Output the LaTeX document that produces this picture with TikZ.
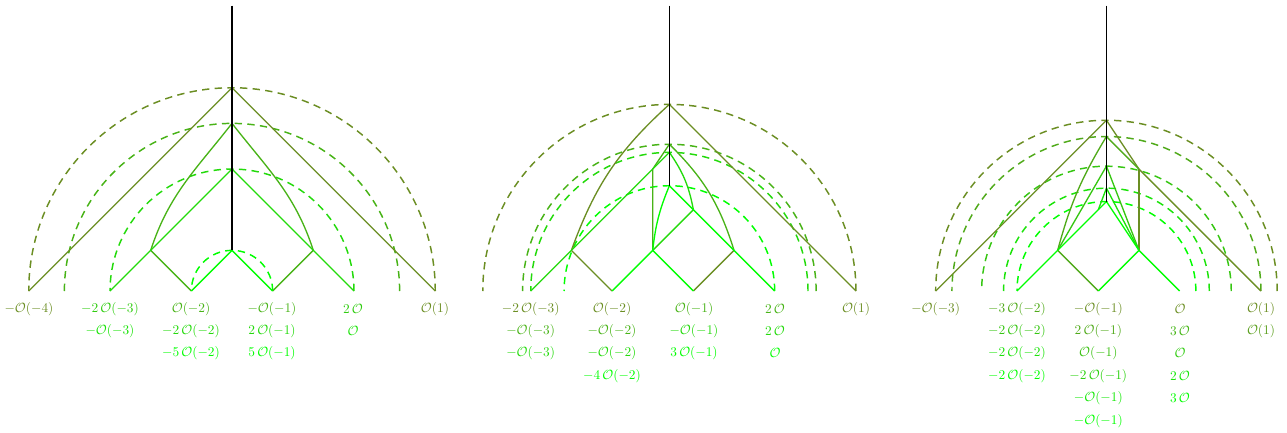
\documentclass[tikz,border=0pt]{standalone}
\usepackage{amsmath}
\definecolor{olv}{RGB}{107,142,35}
\definecolor{grn}{RGB}{0,255,0}
\tikzset{
  ln/.style={line width=1pt},
  dsh/.style={line width=1.1pt, dash pattern=on 5.5pt off 4pt},
  blk/.style={line width=1.3pt, black},
  lab/.style={inner sep=0pt, anchor=center, font=\normalsize}
}
\begin{document}
\begin{tikzpicture}[x=0.75pt,y=-0.75pt]
\useasboundingbox (0,0) rectangle (1287,432);
% ---------------- Diagram 1 ----------------
\begin{scope}[shift={(232,291)},x=30.49pt,y=30.49pt]
  \colorlet{k0}{olv}\colorlet{k1}{grn!33!olv}\colorlet{k2}{grn!67!olv}\colorlet{k3}{grn}
  \coordinate (a-top) at (0,7.02);
  \coordinate (a-h0) at (0,5);
  \coordinate (a-h1) at (0,4.123);
  \coordinate (a-h2) at (0,3);
  \coordinate (a-h3) at (0,1);
  \coordinate (a-m5) at (-5,0);
  \coordinate (a-m3) at (-3,0);
  \coordinate (a-m1) at (-1,0);
  \coordinate (a-p1) at (1,0);
  \coordinate (a-p3) at (3,0);
  \coordinate (a-p5) at (5,0);
  \coordinate (a-l) at (-2,1);
  \coordinate (a-r) at (2,1);
  \draw[dsh,k0] (5,0) arc[start angle=0,end angle=180,radius=5];
  \draw[dsh,k1] (4.123,0) arc[start angle=0,end angle=180,radius=4.123];
  \draw[dsh,k2] (3,0) arc[start angle=0,end angle=180,radius=3];
  \draw[dsh,k3] (1,0) arc[start angle=0,end angle=180,radius=1];
  \draw[ln,k0] (a-m5) -- (a-h0) -- (a-p5);
  \draw[ln,k1] (a-l) to[out=72,in=232] (a-h1);
  \draw[ln,k1] (a-r) to[out=108,in=-52] (a-h1);
  \draw[ln,k1] (a-l) -- (a-m1);
  \draw[ln,k1] (a-p1) -- (a-r);
  \draw[ln,k2] (a-m3) -- (a-h2) -- (a-p3);
  \draw[ln,k3] (a-m1) -- (a-h3) -- (a-p1);
  \draw[blk] (a-top) -- (a-h3);
\end{scope}
% ---------------- Diagram 2 ----------------
\begin{scope}[shift={(652.7,291)},x=30.49pt,y=30.49pt]
  \colorlet{k0}{olv}\colorlet{k1}{grn!33!olv}\colorlet{k2}{grn!67!olv}\colorlet{k3}{grn}
  \coordinate (b-top) at (0.41,7.02);
  \coordinate (b-h0) at (0.41,4.59);
  \coordinate (b-h1) at (0.41,3.61);
  \coordinate (b-h2) at (0.41,3.41);
  \coordinate (b-h3) at (0.41,2.59);
  \coordinate (b-m3) at (-3,0);
  \coordinate (b-m1) at (-1,0);
  \coordinate (b-p1) at (1,0);
  \coordinate (b-p3) at (3,0);
  \coordinate (b-p5) at (5,0);
  \coordinate (b-l) at (-2,1);
  \coordinate (b-c) at (0,1);
  \coordinate (b-r) at (2,1);
  \coordinate (b-q) at (1,2);
  \coordinate (b-v) at (0,3);
  \begin{scope}[shift={(0.41,0)}]
    \draw[dsh,k0] (4.59,0) arc[start angle=0,end angle=180,radius=4.59];
    \draw[dsh,k1] (3.61,0) arc[start angle=0,end angle=180,radius=3.61];
    \draw[dsh,k2] (3.41,0) arc[start angle=0,end angle=180,radius=3.41];
    \draw[dsh,k3] (2.59,0) arc[start angle=0,end angle=180,radius=2.59];
  \end{scope}
  \draw[ln,k0] (b-l) to[bend left=14] (b-h0);
  \draw[ln,k0] (b-h0) -- (b-p5);
  \draw[ln,k0] (b-l) -- (b-m1);
  \draw[ln,k0] (b-p1) -- (b-r);
  \draw[ln,k1] (b-h1) to[bend left=14] (b-r);
  \draw[ln,k1] (b-h1) -- (b-v) -- (b-c);
  \draw[ln,k2] (b-m3) -- (b-l) -- (b-h2);
  \draw[ln,k2] (b-h2) to[bend left=12] (b-q);
  \draw[ln,k2] (b-c) -- (b-q);
  \draw[ln,k3] (b-h3) to[bend right=8] (b-c);
  \draw[ln,k3] (b-h3) -- (b-p3);
  \draw[ln,k3] (b-m1) -- (b-c) -- (b-p1);
  \draw[blk] (b-top) -- (b-h3);
\end{scope}
% ---------------- Diagram 3 ----------------
\begin{scope}[shift={(1098.3,291)},x=30.49pt,y=30.49pt]
  \colorlet{k0}{olv}\colorlet{k1}{grn!25!olv}\colorlet{k2}{grn!50!olv}\colorlet{k3}{grn!75!olv}\colorlet{k4}{grn}
  \coordinate (c-top) at (0.2,7.02);
  \coordinate (c-h0) at (0.2,4.2);
  \coordinate (c-h1) at (0.2,3.8);
  \coordinate (c-h2) at (0.2,3.07);
  \coordinate (c-h3) at (0.2,2.53);
  \coordinate (c-h4) at (0.2,2.2);
  \coordinate (c-m4) at (-4,0);
  \coordinate (c-m2) at (-2,0);
  \coordinate (c-z) at (0,0);
  \coordinate (c-p2) at (2,0);
  \coordinate (c-p4) at (4,0);
  \coordinate (c-l) at (-1,1);
  \coordinate (c-r) at (1,1);
  \coordinate (c-t) at (0,2);
  \coordinate (c-v) at (1,3);
  \begin{scope}[shift={(0.2,0)}]
    \draw[dsh,k0] (4.2,0) arc[start angle=0,end angle=180,radius=4.2];
    \draw[dsh,k1] (3.8,0) arc[start angle=0,end angle=180,radius=3.8];
    \draw[dsh,k2] (3.07,0) arc[start angle=0,end angle=180,radius=3.07];
    \draw[dsh,k3] (2.53,0) arc[start angle=0,end angle=180,radius=2.53];
    \draw[dsh,k4] (2.2,0) arc[start angle=0,end angle=180,radius=2.2];
  \end{scope}
  \draw[ln,k0] (c-m4) -- (c-h0) -- (c-v) -- (c-p4);
  \draw[ln,k0] (c-v) -- (c-r);
  \draw[ln,k1] (c-l) to[bend left=8] (c-h1);
  \draw[ln,k1] (c-h1) -- (c-v);
  \draw[ln,k1] (c-l) -- (c-z);
  \draw[ln,k2] (c-l) -- (c-h2) -- (c-r);
  \draw[ln,k3] (c-t) -- (c-h3) -- (c-r);
  \draw[ln,k4] (c-t) -- (c-h4) -- (c-r);
  \draw[ln,k4] (c-m2) -- (c-l) -- (c-t);
  \draw[ln,k4] (c-z) -- (c-r) -- (c-p2);
  \draw[blk] (c-top) -- (c-h4);
\end{scope}
% ---------------- Labels ----------------
% Diagram 1
\node[lab,text=olv] (l1a) at (29,309) {$-\mathcal{O}(-4)$};
\node[lab,text=grn!55!olv] (l1b) at (110,309) {$-2\,\mathcal{O}(-3)$};
\node[lab,text=grn!75!olv] (l1c) at (110,331) {$-\mathcal{O}(-3)$};
\node[lab,text=grn!33!olv] (l1d) at (191,309) {$\mathcal{O}(-2)$};
\node[lab,text=grn!67!olv] (l1e) at (191,331) {$-2\,\mathcal{O}(-2)$};
\node[lab,text=grn] (l1f) at (191,353) {$-5\,\mathcal{O}(-2)$};
\node[lab,text=grn!33!olv] (l1g) at (272,309) {$-\mathcal{O}(-1)$};
\node[lab,text=grn!67!olv] (l1h) at (272,331) {$2\,\mathcal{O}(-1)$};
\node[lab,text=grn] (l1i) at (272,353) {$5\,\mathcal{O}(-1)$};
\node[lab,text=grn!55!olv] (l1j) at (353,309) {$2\,\mathcal{O}$};
\node[lab,text=grn!75!olv] (l1k) at (353,331) {$\mathcal{O}$};
\node[lab,text=olv] (l1l) at (435,309) {$\mathcal{O}(1)$};
% Diagram 2
\node[lab,text=olv] (l2a) at (530.7,309) {$-2\,\mathcal{O}(-3)$};
\node[lab,text=grn!33!olv] (l2b) at (530.7,331) {$-\mathcal{O}(-3)$};
\node[lab,text=grn!67!olv] (l2c) at (530.7,353) {$-\mathcal{O}(-3)$};
\node[lab,text=olv] (l2d) at (612,309) {$\mathcal{O}(-2)$};
\node[lab,text=grn!33!olv] (l2e) at (612,331) {$-\mathcal{O}(-2)$};
\node[lab,text=grn!67!olv] (l2f) at (612,353) {$-\mathcal{O}(-2)$};
\node[lab,text=grn] (l2g) at (612,376) {$-4\,\mathcal{O}(-2)$};
\node[lab,text=grn!33!olv] (l2h) at (694,309) {$\mathcal{O}(-1)$};
\node[lab,text=grn!67!olv] (l2i) at (694,331) {$-\mathcal{O}(-1)$};
\node[lab,text=grn] (l2j) at (694,353) {$3\,\mathcal{O}(-1)$};
\node[lab,text=grn!33!olv] (l2k) at (775,309) {$2\,\mathcal{O}$};
\node[lab,text=grn!67!olv] (l2l) at (775,331) {$2\,\mathcal{O}$};
\node[lab,text=grn] (l2m) at (775,353) {$\mathcal{O}$};
\node[lab,text=olv] (l2n) at (856,309) {$\mathcal{O}(1)$};
% Diagram 3
\node[lab,text=olv] (l3a) at (935.7,309) {$-\mathcal{O}(-3)$};
\node[lab,text=grn!25!olv] (l3b) at (1017,309) {$-3\,\mathcal{O}(-2)$};
\node[lab,text=grn!50!olv] (l3c) at (1017,331) {$-2\,\mathcal{O}(-2)$};
\node[lab,text=grn!75!olv] (l3d) at (1017,353) {$-2\,\mathcal{O}(-2)$};
\node[lab,text=grn] (l3e) at (1017,376) {$-2\,\mathcal{O}(-2)$};
\node[lab,text=olv] (l3f) at (1098.3,309) {$-\mathcal{O}(-1)$};
\node[lab,text=grn!25!olv] (l3g) at (1098.3,331) {$2\,\mathcal{O}(-1)$};
\node[lab,text=grn!45!olv] (l3h) at (1098.3,353) {$\mathcal{O}(-1)$};
\node[lab,text=grn!60!olv] (l3i) at (1098.3,376) {$-2\,\mathcal{O}(-1)$};
\node[lab,text=grn!80!olv] (l3j) at (1098.3,398) {$-\mathcal{O}(-1)$};
\node[lab,text=grn] (l3k) at (1098.3,421) {$-\mathcal{O}(-1)$};
\node[lab,text=olv] (l3l) at (1180,309) {$\mathcal{O}$};
\node[lab,text=grn!35!olv] (l3m) at (1180,331) {$3\,\mathcal{O}$};
\node[lab,text=grn!55!olv] (l3n) at (1180,353) {$\mathcal{O}$};
\node[lab,text=grn!80!olv] (l3o) at (1180,376) {$2\,\mathcal{O}$};
\node[lab,text=grn] (l3p) at (1180,398) {$3\,\mathcal{O}$};
\node[lab,text=olv] (l3q) at (1261,309) {$\mathcal{O}(1)$};
\node[lab,text=grn!15!olv] (l3r) at (1261,331) {$\mathcal{O}(1)$};
\end{tikzpicture}
\end{document}
